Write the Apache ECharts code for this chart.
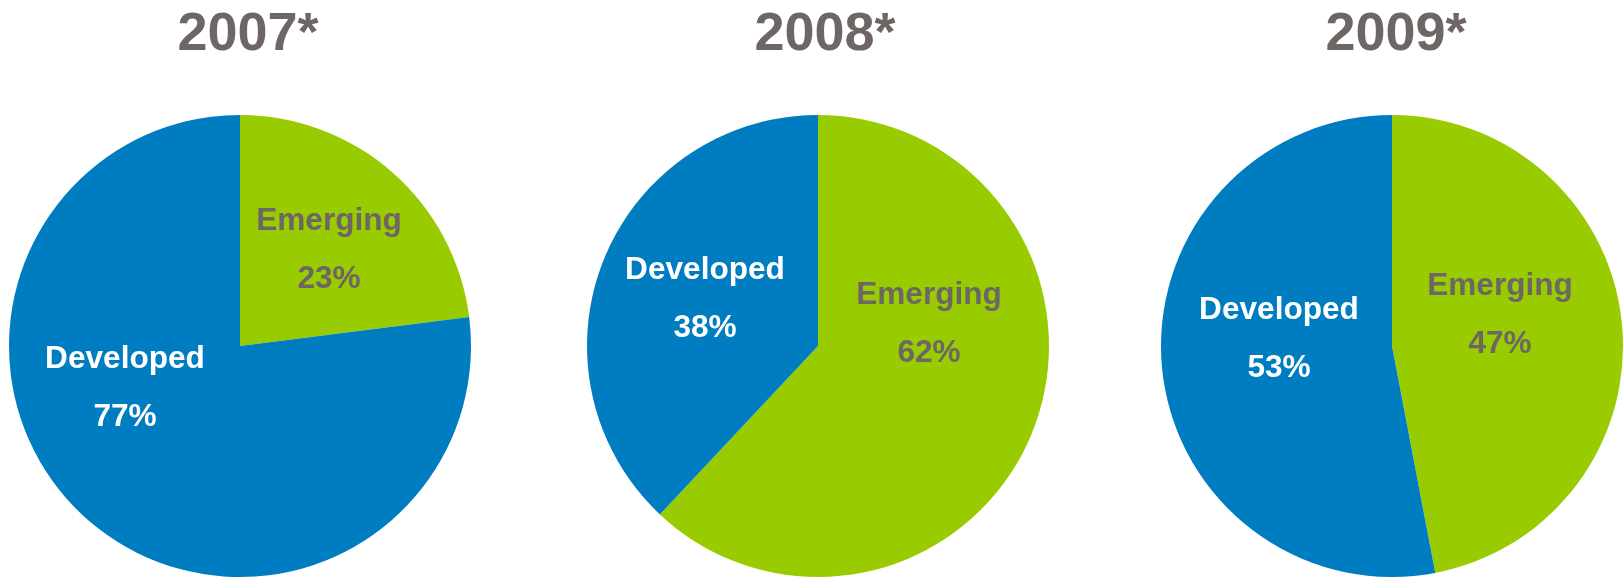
<!DOCTYPE html>
<html><head><meta charset="utf-8">
<script src="https://cdn.jsdelivr.net/npm/echarts@6/dist/echarts.min.js"></script>
<style>html,body{margin:0;padding:0;background:#fff}#c{width:1623px;height:577px}</style>
</head><body><div id="c"></div>
<script>
// ---- data ----
const years = ['2007*', '2008*', '2009*'];
const categories = ['Emerging', 'Developed'];
const emerging = [23, 62, 47];
const developed = [77, 38, 53];

// ---- layout / style ----
const centers = [[240, 346], [818, 346], [1392, 346]];
const titleX = [243, 820, 1391];
const radius = 231;
const colors = { Emerging: '#99CC00', Developed: '#007CC0' };
const labelColors = { Emerging: '#6D6664', Developed: '#FFFFFF' };
// desired label centres relative to each pie centre (px)
const labelRel = [
  { Emerging: [89, -96], Developed: [-115, 42] },
  { Emerging: [111, -22], Developed: [-113, -47] },
  { Emerging: [108, -31], Developed: [-113, -7] }
];

function inlineOffset(values, idx, rel) {
  const total = values.reduce((a, b) => a + b, 0);
  let before = 0;
  for (let i = 0; i < idx; i++) before += values[i];
  const a0 = -Math.PI / 2 + 2 * Math.PI * before / total;
  const a1 = a0 + 2 * Math.PI * values[idx] / total;
  const mid = (a0 + a1) / 2;
  const d = radius / 2 + 3;
  return [rel[0] - d * Math.cos(mid), rel[1] - d * Math.sin(mid)];
}

const series = years.map((y, i) => {
  const vals = [emerging[i], developed[i]];
  return {
    type: 'pie',
    center: centers[i],
    radius: radius,
    startAngle: 90,
    clockwise: true,
    silent: true,
    animation: false,
    avoidLabelOverlap: false,
    labelLine: { show: false },
    itemStyle: { borderWidth: 0 },
    data: categories.map((c, k) => ({
      name: c,
      value: vals[k],
      itemStyle: { color: colors[c] },
      label: {
        show: true,
        position: 'inside',
        formatter: '{b}\n{c}%',
        color: labelColors[c],
        fontFamily: 'Liberation Sans, Arial, sans-serif',
        fontWeight: 'bold',
        fontSize: 31.6,
        lineHeight: 58,
        align: 'center',
        verticalAlign: 'middle',
        offset: inlineOffset(vals, k, labelRel[i][c])
      }
    }))
  };
});

const chart = echarts.init(document.getElementById('c'), null, { renderer: 'canvas' });
chart.setOption({
  animation: false,
  title: years.map((y, i) => ({
    text: y,
    left: titleX[i],
    top: 3,
    textAlign: 'center',
    textStyle: {
      fontFamily: 'Liberation Sans, Arial, sans-serif',
      fontWeight: 'bold',
      fontSize: 54,
      color: '#6D6664'
    }
  })),
  series: series
});
</script></body></html>
